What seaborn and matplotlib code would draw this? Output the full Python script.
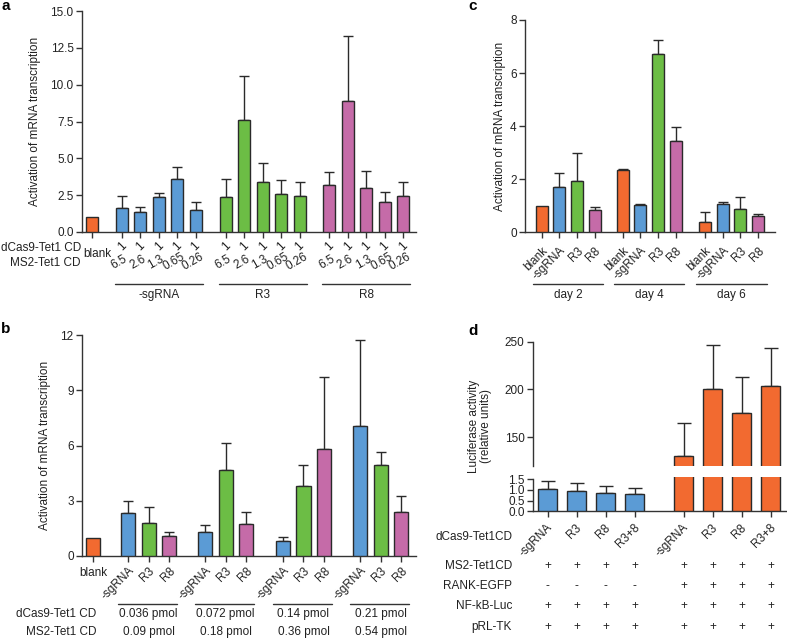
import numpy as np
import pandas as pd
import seaborn as sns
import matplotlib.pyplot as plt
from matplotlib import transforms
from matplotlib.lines import Line2D

sns.set_style("ticks")
plt.rcParams['font.family'] = ['Liberation Sans', 'DejaVu Sans']
plt.rcParams['font.size'] = 8.5
plt.rcParams['text.color'] = '#222222'
plt.rcParams['axes.edgecolor'] = '#333333'
plt.rcParams['axes.linewidth'] = 1.0
plt.rcParams['xtick.color'] = '#333333'
plt.rcParams['ytick.color'] = '#333333'
plt.rcParams['xtick.labelcolor'] = '#222222'
plt.rcParams['ytick.labelcolor'] = '#222222'

# ---- panel a data ----
a_groups = ["-sgRNA", "R3", "R8"]
a_dcas9 = ["1", "1", "1", "1", "1"]
a_ms2 = ["6.5", "2.6", "1.3", "0.65", "0.26"]
a_blank = 1.0
a_sg_mean = [1.65, 1.36, 2.40, 3.60, 1.49]
a_sg_sd = [0.79, 0.31, 0.22, 0.81, 0.57]
a_r3_mean = [2.38, 7.60, 3.37, 2.58, 2.47]
a_r3_sd = [1.22, 2.97, 1.31, 0.95, 0.90]
a_r8_mean = [3.17, 8.89, 2.96, 2.04, 2.44]
a_r8_sd = [0.93, 4.44, 1.18, 0.70, 0.95]

# ---- panel b data ----
b_labels = ["-sgRNA", "R3", "R8"]
b_dcas9 = ["0.036 pmol", "0.072 pmol", "0.14 pmol", "0.21 pmol"]
b_ms2 = ["0.09 pmol", "0.18 pmol", "0.36 pmol", "0.54 pmol"]
b_blank = 1.0
b_sg_mean = [2.32, 1.28, 0.80, 7.05]
b_sg_sd = [0.68, 0.40, 0.21, 4.68]
b_r3_mean = [1.80, 4.68, 3.81, 4.92]
b_r3_sd = [0.88, 1.46, 1.11, 0.70]
b_r8_mean = [1.06, 1.76, 5.82, 2.37]
b_r8_sd = [0.27, 0.62, 3.88, 0.90]

# ---- panel c data ----
c_days = ["day 2", "day 4", "day 6"]
c_labels = ["blank", "-sgRNA", "R3", "R8"]
c_blank_mean = [1.00, 2.35, 0.40]
c_blank_sd = [0.0, 0.05, 0.38]
c_sg_mean = [1.70, 1.04, 1.07]
c_sg_sd = [0.55, 0.03, 0.06]
c_r3_mean = [1.95, 6.71, 0.87]
c_r3_sd = [1.04, 0.54, 0.47]
c_r8_mean = [0.84, 3.45, 0.60]
c_r8_sd = [0.13, 0.52, 0.10]

# ---- panel d data ----
d_labels = ["-sgRNA", "R3", "R8", "R3+8"]
d_blue_mean = [1.02, 0.94, 0.87, 0.82]
d_blue_sd = [0.37, 0.37, 0.30, 0.28]
d_orange_mean = [130.1, 200.0, 174.8, 203.5]
d_orange_sd = [34.6, 46.9, 37.8, 39.5]
d_rows = ["MS2-Tet1CD", "RANK-EGFP", "NF-kB-Luc", "pRL-TK"]
d_ms2 = ["+"] * 8
d_rank = ["-", "-", "-", "-", "+", "+", "+", "+"]
d_nfkb = ["+"] * 8
d_prl = ["+"] * 8

PALETTE = {"blank": "#F26A30", "sg": "#5B9BD5", "r3": "#6CBD45", "r8": "#C56BA8"}
EDGE = "#2a2a2a"
W, H = 787, 639

fig = plt.figure(figsize=(W / 100, H / 100), dpi=100)


def box(l, t, r, b):
    return [l / W, 1 - b / H, (r - l) / W, (b - t) / H]


def fy(y):
    return 1 - y / H


def fx(x):
    return x / W


def draw_bars(ax, pos, means, sds, keys, width, capsize=3.5):
    df = pd.DataFrame({"pos": pos, "value": means, "key": keys})
    sns.barplot(data=df, x="pos", y="value", hue="key", palette=PALETTE,
                native_scale=True, orient="x", width=width, dodge=False,
                legend=False, errorbar=None, saturation=1, edgecolor=EDGE,
                linewidth=1.0, ax=ax, zorder=3)
    pos = np.asarray(pos)
    means = np.asarray(means)
    sds = np.asarray(sds)
    m = sds > 0
    ax.errorbar(pos[m], means[m], yerr=[np.zeros(m.sum()), sds[m]], fmt="none",
                ecolor=EDGE, elinewidth=1, capsize=capsize, capthick=1, zorder=2)


def style(ax):
    sns.despine(ax=ax)
    ax.tick_params(direction="out", length=4, width=1, labelsize=8.5, pad=2)
    ax.set_xlabel("")
    ax.set_ylabel("")


# ================= panel a =================
ax = fig.add_axes(box(82, 11, 416, 232))
a_starts = [1.63, 7.28, 12.9]
pos, means, sds, keys = [0.0], [a_blank], [0.0], ["blank"]
for st, mm, ss, k in zip(a_starts, [a_sg_mean, a_r3_mean, a_r8_mean],
                         [a_sg_sd, a_r3_sd, a_r8_sd], ["sg", "r3", "r8"]):
    for i in range(5):
        pos.append(st + i); means.append(mm[i]); sds.append(ss[i]); keys.append(k)
draw_bars(ax, pos, means, sds, keys, 0.65)
style(ax)
ax.set_ylim(0, 15)
ax.set_yticks(np.arange(0, 15.1, 2.5))
ax.set_yticklabels([f"{v:.1f}" for v in np.arange(0, 15.1, 2.5)])
ax.set_xlim(-0.54, 17.6)
ax.set_xticks(pos)
ax.set_xticklabels([])
tr = transforms.blended_transform_factory(ax.transData, fig.transFigure)
ax.text(0.27, fy(254), "blank", transform=tr, ha="center", va="center")
for gi, st in enumerate(a_starts):
    for i in range(5):
        ax.text(st + i, fy(247), a_dcas9[i], transform=tr, rotation=45,
                ha="center", va="center")
        ax.text(st + i - 0.15, fy(262), a_ms2[i], transform=tr, rotation=30,
                ha="center", va="center")
    ax.add_line(Line2D([st - 0.4, st + 4.4], [fy(284), fy(284)], transform=tr,
                       color="#333333", lw=1, clip_on=False))
    ax.text(st + 2, fy(295), a_groups[gi], transform=tr, ha="center", va="center")
fig.text(fx(81), fy(248), "dCas9-Tet1 CD", ha="right", va="center")
fig.text(fx(81), fy(263), "MS2-Tet1 CD", ha="right", va="center")
fig.text(fx(35), fy(121), "Activation of mRNA transcription", rotation=90,
         ha="center", va="center")

# ================= panel b =================
ax = fig.add_axes(box(82, 335, 416, 556))
b_starts = [1.70, 5.44, 9.22, 12.96]
pos, means, sds, keys = [0.0], [b_blank], [0.0], ["blank"]
for g, st in enumerate(b_starts):
    for i, (mm, ss, k) in enumerate(zip([b_sg_mean, b_r3_mean, b_r8_mean],
                                        [b_sg_sd, b_r3_sd, b_r8_sd],
                                        ["sg", "r3", "r8"])):
        pos.append(st + i); means.append(mm[g]); sds.append(ss[g]); keys.append(k)
draw_bars(ax, pos, means, sds, keys, 0.68)
style(ax)
ax.set_ylim(0, 12)
ax.set_yticks([0, 3, 6, 9, 12])
ax.set_xlim(-0.53, 15.68)
ax.set_xticks(pos)
ax.set_xticklabels([])
tr = transforms.blended_transform_factory(ax.transData, fig.transFigure)
ax.text(0, fy(573), "blank", transform=tr, ha="center", va="center")
for g, st in enumerate(b_starts):
    for i in range(3):
        ax.text(st + i + 0.2, fy(569), b_labels[i], transform=tr, rotation=45,
                rotation_mode="anchor", ha="right", va="center")
    ax.add_line(Line2D([st - 0.47, st + 2.37], [fy(604), fy(604)], transform=tr,
                       color="#333333", lw=1, clip_on=False))
    ax.text(st + 1, fy(614), b_dcas9[g], transform=tr, ha="center", va="center")
    ax.text(st + 1, fy(632), b_ms2[g], transform=tr, ha="center", va="center")
fig.text(fx(96), fy(614), "dCas9-Tet1 CD", ha="right", va="center")
fig.text(fx(96), fy(632), "MS2-Tet1 CD", ha="right", va="center")
fig.text(fx(45), fy(445), "Activation of mRNA transcription", rotation=90,
         ha="center", va="center")

# ================= panel c =================
ax = fig.add_axes(box(525, 20, 775, 232.3))
c_starts = [0.0, 4.6, 9.28]
pos, means, sds, keys = [], [], [], []
for g, st in enumerate(c_starts):
    for i, (mm, ss, k) in enumerate(zip([c_blank_mean, c_sg_mean, c_r3_mean, c_r8_mean],
                                        [c_blank_sd, c_sg_sd, c_r3_sd, c_r8_sd],
                                        ["blank", "sg", "r3", "r8"])):
        pos.append(st + i); means.append(mm[g]); sds.append(ss[g]); keys.append(k)
draw_bars(ax, pos, means, sds, keys, 0.68)
style(ax)
ax.set_ylim(0, 8)
ax.set_yticks([0, 2, 4, 6, 8])
ax.set_xlim(-0.95, 13.25)
ax.set_xticks(pos)
ax.set_xticklabels([])
tr = transforms.blended_transform_factory(ax.transData, fig.transFigure)
for g, st in enumerate(c_starts):
    for i in range(4):
        ax.text(st + i + 0.25, fy(249), c_labels[i], transform=tr, rotation=45,
                rotation_mode="anchor", ha="right", va="center")
    ax.add_line(Line2D([st - 0.5, st + 3.5], [fy(284), fy(284)], transform=tr,
                       color="#333333", lw=1, clip_on=False))
    ax.text(st + 1.5, fy(295), c_days[g], transform=tr, ha="center", va="center")
fig.text(fx(500), fy(126), "Activation of mRNA transcription", rotation=90,
         ha="center", va="center")

# ================= panel d =================
d_pos = [0, 1, 2, 3, 4.69, 5.69, 6.69, 7.69]
d_means = d_blue_mean + d_orange_mean
d_sds = d_blue_sd + d_orange_sd
d_keys = ["sg"] * 4 + ["blank"] * 4

ax_up = fig.add_axes(box(533, 341.7, 787, 465.7))
ax_lo = fig.add_axes(box(533, 476.9, 787, 511.3))
for axd in (ax_up, ax_lo):
    draw_bars(axd, d_pos, d_means, d_sds, d_keys, 0.645, capsize=5)
    style(axd)
    axd.set_xlim(-0.5, 8.25)
ax_up.set_ylim(120, 250)
ax_up.set_yticks([150, 200, 250])
ax_up.spines["bottom"].set_visible(False)
ax_up.spines["left"].set_bounds(120, 250)
ax_up.tick_params(axis="x", bottom=False, labelbottom=False)
ax_lo.set_ylim(0, 1.6)
ax_lo.set_yticks([0, 0.5, 1.0, 1.5])
ax_lo.set_yticklabels(["0.0", "0.5", "1.0", "1.5"])
ax_lo.spines["left"].set_bounds(0, 1.5)
ax_lo.set_xticks(d_pos)
ax_lo.set_xticklabels([])
tr = transforms.blended_transform_factory(ax_lo.transData, fig.transFigure)
for i, x in enumerate(d_pos):
    ax_lo.text(x + 0.1, fy(526), d_labels[i % 4], transform=tr, rotation=45,
               rotation_mode="anchor", ha="right", va="center")
    for row_y, row in zip([566, 586, 606, 627], [d_ms2, d_rank, d_nfkb, d_prl]):
        ax_lo.text(x, fy(row_y), row[i], transform=tr, ha="center", va="center")
fig.text(fx(512), fy(537), "dCas9-Tet1CD", ha="right", va="center")
for row_y, name in zip([566, 586, 606, 627], d_rows):
    fig.text(fx(512), fy(row_y), name, ha="right", va="center")
fig.text(fx(480), fy(426), "Luciferase activity\n(relative units)", rotation=90,
         ha="center", va="center", multialignment="center", linespacing=1.05)

# panel letters
for letter, x, y in [("a", 1, 10), ("b", 1, 333), ("c", 468, 10), ("d", 468, 335)]:
    fig.text(fx(x), fy(y), letter, fontsize=11, fontweight="bold",
             ha="left", va="baseline", color="black")

fig.savefig("out.png", dpi=100)
